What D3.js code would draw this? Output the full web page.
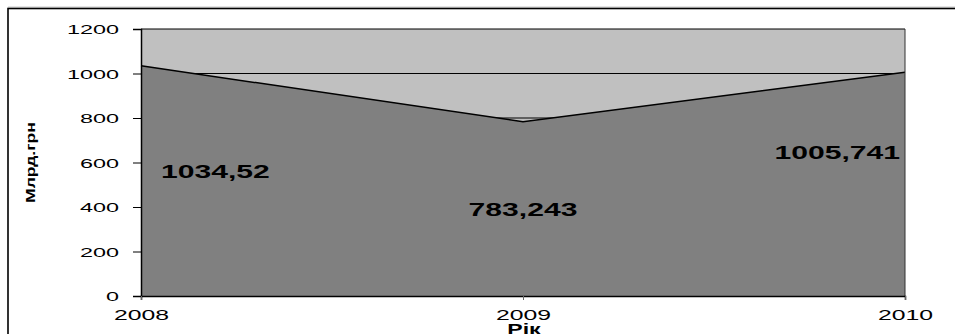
<!DOCTYPE html>
<html>
<head>
<meta charset="utf-8">
<script src="https://cdn.jsdelivr.net/npm/d3@7"></script>
<style>
  html, body { margin: 0; padding: 0; background: #fff; }
  svg { display: block; }
  text { font-family: "Liberation Sans", Arial, sans-serif; }
</style>
</head>
<body>
<div id="chart"></div>
<script>
// Обсяг, млрд грн, за роками
const years = [2008, 2009, 2010];
const values = [1034.52, 783.243, 1005.741];
const valueLabels = ["1034,52", "783,243", "1005,741"];
const yTicks = [0, 200, 400, 600, 800, 1000, 1200];
const xTitle = "Рік";
const yTitle = "Млрд.грн";

const W = 955, H = 334;
const plot = { left: 141, right: 905, top: 29, bottom: 296 };

const svg = d3.select("#chart").append("svg")
  .attr("width", W).attr("height", H);

// outer chart frame
svg.append("line").attr("x1", 8).attr("x2", W).attr("y1", 7).attr("y2", 7)
  .attr("stroke", "#c8c8c8").attr("stroke-width", 1);
svg.append("rect").attr("x", 8).attr("y", 8.5)
  .attr("width", W + 10).attr("height", H + 10)
  .attr("fill", "none").attr("stroke", "#000").attr("stroke-width", 1.6);

const x = d3.scalePoint().domain(years).range([plot.left, plot.right]);
const y = d3.scaleLinear().domain([0, 1200]).range([plot.bottom, plot.top]);

// plot background
svg.append("rect")
  .attr("x", plot.left).attr("y", plot.top)
  .attr("width", plot.right - plot.left).attr("height", plot.bottom - plot.top)
  .attr("fill", "#c0c0c0");

// horizontal gridlines
svg.append("g").selectAll("line")
  .data(yTicks.filter(t => t > 0 && t < 1200))
  .join("line")
  .attr("x1", plot.left).attr("x2", plot.right)
  .attr("y1", d => y(d)).attr("y2", d => y(d))
  .attr("stroke", "#000").attr("stroke-width", 1);

const pts = years.map((yr, i) => ({ yr, v: values[i], label: valueLabels[i] }));

// area
svg.append("path")
  .datum(pts)
  .attr("fill", "#808080")
  .attr("d", d3.area().x(d => x(d.yr)).y0(y(0)).y1(d => y(d.v)));
svg.append("path")
  .datum(pts)
  .attr("fill", "none").attr("stroke", "#000").attr("stroke-width", 1.5)
  .attr("d", d3.line().x(d => x(d.yr)).y(d => y(d.v)));

// plot border
svg.append("line").attr("x1", plot.left).attr("x2", plot.right)
  .attr("y1", plot.top).attr("y2", plot.top).attr("stroke", "#000").attr("stroke-width", 1);
svg.append("line").attr("x1", plot.right).attr("x2", plot.right)
  .attr("y1", plot.top).attr("y2", plot.bottom).attr("stroke", "#333").attr("stroke-width", 1);

// wide-set glyphs: stretch each text horizontally by factor
function stretch(sel, factor) {
  sel.each(function () {
    const w = this.getComputedTextLength();
    d3.select(this).attr("textLength", w * factor).attr("lengthAdjust", "spacingAndGlyphs");
  });
}

// y axis
const yAxis = svg.append("g")
  .attr("transform", `translate(${plot.left},0)`)
  .call(d3.axisLeft(y).tickValues(yTicks).tickSize(8).tickPadding(14).tickFormat(d3.format("d")));
yAxis.select(".domain").attr("stroke", "#000").attr("stroke-width", 1.5);
yAxis.selectAll(".tick line").attr("stroke", "#000");
yAxis.selectAll(".tick text")
  .attr("font-size", 12.5).attr("fill", "#000")
  .attr("font-family", "'Liberation Sans', Arial, sans-serif")
  .attr("dy", "0.36em");
stretch(yAxis.selectAll(".tick text"), 1.87);

// x axis
const xAxis = svg.append("g")
  .attr("transform", `translate(0,${plot.bottom})`)
  .call(d3.axisBottom(x).tickSize(4).tickPadding(10).tickFormat(d3.format("d")));
xAxis.select(".domain").attr("stroke", "#000").attr("stroke-width", 1.5);
xAxis.selectAll(".tick line").attr("stroke", "#666");
xAxis.selectAll(".tick text")
  .attr("font-size", 14).attr("fill", "#000")
  .attr("font-family", "'Liberation Sans', Arial, sans-serif");
stretch(xAxis.selectAll(".tick text"), 1.77);

// value labels inside the area
const labelAnchor = ["start", "middle", "end"];
const labelDx = [20, 0, -5];
const labelDy = [106, 88, 80];
const lbl = svg.append("g").selectAll("text")
  .data(pts)
  .join("text")
  .attr("x", (d, i) => x(d.yr) + labelDx[i])
  .attr("y", (d, i) => y(d.v) + labelDy[i])
  .attr("dy", "0.36em")
  .attr("text-anchor", (d, i) => labelAnchor[i])
  .attr("font-size", 17.5).attr("font-weight", "bold").attr("fill", "#000")
  .text(d => d.label);
stretch(lbl, 1.72);

// axis titles
const xt = svg.append("text")
  .attr("x", (plot.left + plot.right) / 2 + 1).attr("y", 333.5)
  .attr("text-anchor", "middle")
  .attr("font-size", 14).attr("font-weight", "bold")
  .text(xTitle);
stretch(xt, 1.65);

svg.append("text")
  .attr("transform", `translate(35,162.5) rotate(-90)`)
  .attr("text-anchor", "middle")
  .attr("font-size", 12.5).attr("font-weight", "bold")
  .attr("textLength", 81).attr("lengthAdjust", "spacingAndGlyphs")
  .text(yTitle);
</script>
</body>
</html>
